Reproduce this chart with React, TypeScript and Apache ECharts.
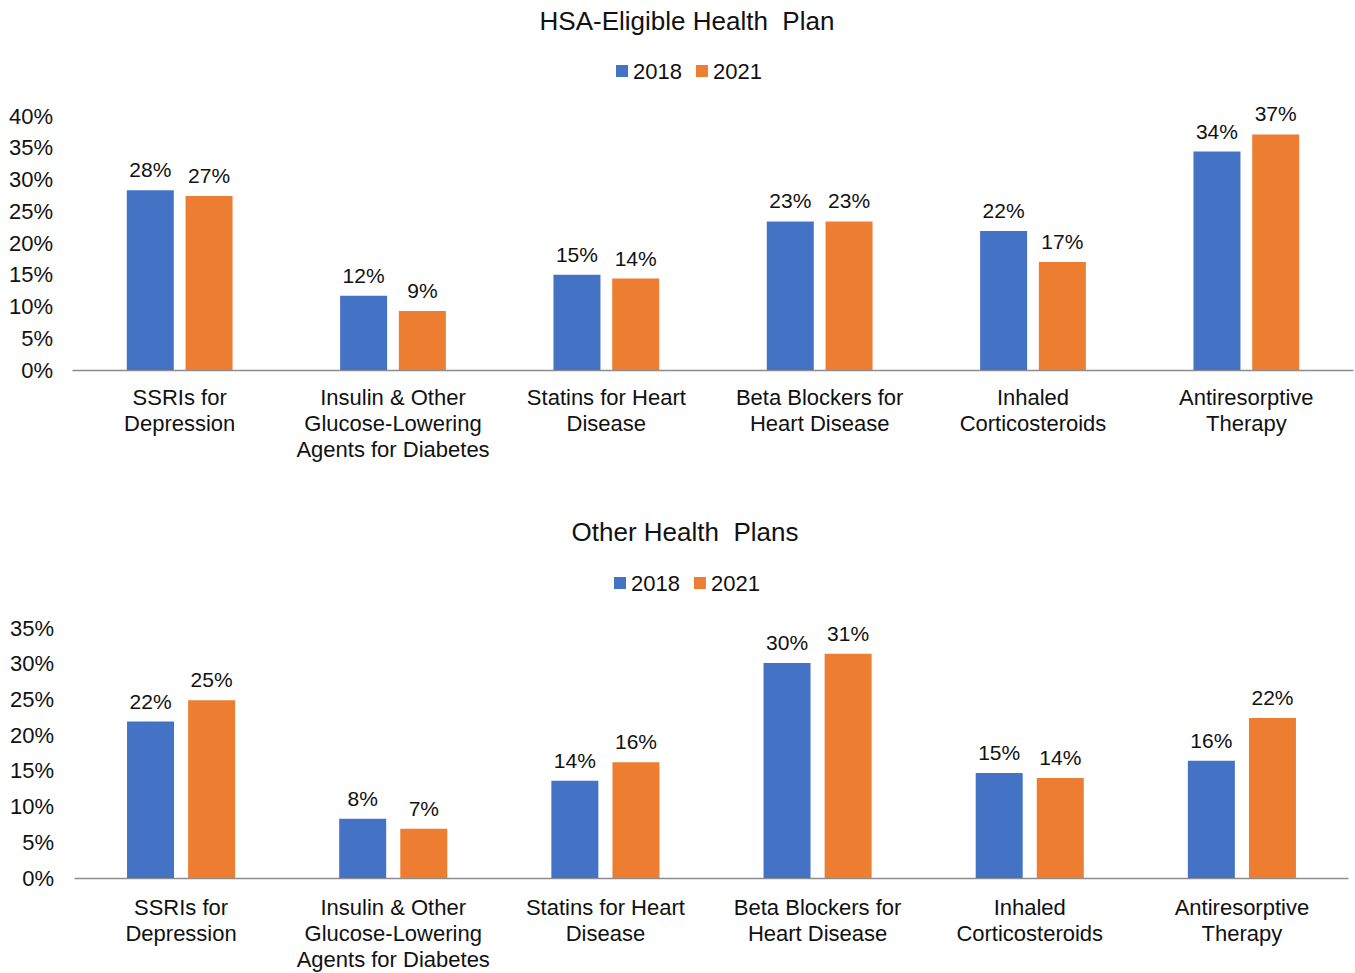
import React, { useEffect, useRef } from "react";
import * as echarts from "echarts";

const categories = [
  "SSRIs for\nDepression",
  "Insulin & Other\nGlucose-Lowering\nAgents for Diabetes",
  "Statins for Heart\nDisease",
  "Beta Blockers for\nHeart Disease",
  "Inhaled\nCorticosteroids",
  "Antiresorptive\nTherapy",
];

const seriesNames = ["2018", "2021"];

const hsa2018 = [28.3, 11.7, 15.0, 23.4, 21.9, 34.4];
const hsa2021 = [27.4, 9.3, 14.4, 23.4, 17.0, 37.1];

const other2018 = [21.9, 8.3, 13.6, 30.1, 14.7, 16.4];
const other2021 = [24.9, 6.9, 16.2, 31.4, 14.0, 22.4];

const titles = ["HSA-Eligible Health  Plan", "Other Health  Plans"];

const BLUE = "#4472C4";
const ORANGE = "#ED7D31";
const FONT = "'Liberation Sans', Arial, sans-serif";
const TXT = "#111";

export default function App() {
  const ref = useRef<HTMLDivElement>(null);

  useEffect(() => {
    if (!ref.current) return;
    const chart = echarts.init(ref.current, undefined, { renderer: "svg" });

    const label = {
      show: true,
      position: "top" as const,
      distance: 10,
      color: TXT,
      fontSize: 21,
      fontFamily: FONT,
      formatter: (p: any) => Math.round(p.value) + "%",
    };

    const catAxis = (gridIndex: number, margin: number) => ({
      type: "category" as const,
      gridIndex,
      data: categories,
      axisTick: { show: false },
      axisLine: { lineStyle: { color: "#8c8c8c", width: 1.3 } },
      axisLabel: {
        color: TXT,
        fontSize: 22,
        fontFamily: FONT,
        lineHeight: 26,
        margin,
        interval: 0,
      },
    });

    const valAxis = (gridIndex: number, max: number, margin: number) => ({
      type: "value" as const,
      gridIndex,
      min: 0,
      max,
      interval: 5,
      splitLine: { show: false },
      axisLine: { show: false },
      axisTick: { show: false },
      axisLabel: {
        color: TXT,
        fontSize: 22,
        fontFamily: FONT,
        margin,
        formatter: "{value}%",
      },
    });

    const legend = (top: number, left: number) => ({
      top,
      left,
      icon: "rect",
      itemWidth: 12,
      itemHeight: 12,
      itemGap: 14,
      data: seriesNames,
      textStyle: { color: TXT, fontSize: 22, fontFamily: FONT },
    });

    chart.setOption({
      animation: false,
      backgroundColor: "#fff",
      title: [
        {
          text: titles[0],
          left: 682,
          textAlign: "center",
          top: 3,
          textStyle: { color: TXT, fontSize: 26, fontWeight: "normal", fontFamily: FONT },
        },
        {
          text: titles[1],
          left: 680,
          textAlign: "center",
          top: 514,
          textStyle: { color: TXT, fontSize: 26, fontWeight: "normal", fontFamily: FONT },
        },
      ],
      legend: [legend(55, 611), legend(567, 609)],
      grid: [
        { left: 73, right: 2, top: 116, height: 254 },
        { left: 75, right: 7, top: 628, height: 250 },
      ],
      xAxis: [catAxis(0, 14), catAxis(1, 16)],
      yAxis: [valAxis(0, 40, 20), valAxis(1, 35, 21)],
      series: [
        {
          name: seriesNames[0],
          type: "bar",
          xAxisIndex: 0,
          yAxisIndex: 0,
          data: hsa2018,
          barWidth: 47,
          barGap: "25%",
          itemStyle: { color: BLUE },
          label,
        },
        {
          name: seriesNames[1],
          type: "bar",
          xAxisIndex: 0,
          yAxisIndex: 0,
          data: hsa2021,
          barWidth: 47,
          barGap: "25%",
          itemStyle: { color: ORANGE },
          label,
        },
        {
          name: seriesNames[0],
          type: "bar",
          xAxisIndex: 1,
          yAxisIndex: 1,
          data: other2018,
          barWidth: 47,
          barGap: "30%",
          itemStyle: { color: BLUE },
          label,
        },
        {
          name: seriesNames[1],
          type: "bar",
          xAxisIndex: 1,
          yAxisIndex: 1,
          data: other2021,
          barWidth: 47,
          barGap: "30%",
          itemStyle: { color: ORANGE },
          label,
        },
      ],
    });

    return () => chart.dispose();
  }, []);

  return (
    <div
      ref={ref}
      style={{ position: "absolute", left: 0, top: 0, width: 1355, height: 973 }}
    />
  );
}
